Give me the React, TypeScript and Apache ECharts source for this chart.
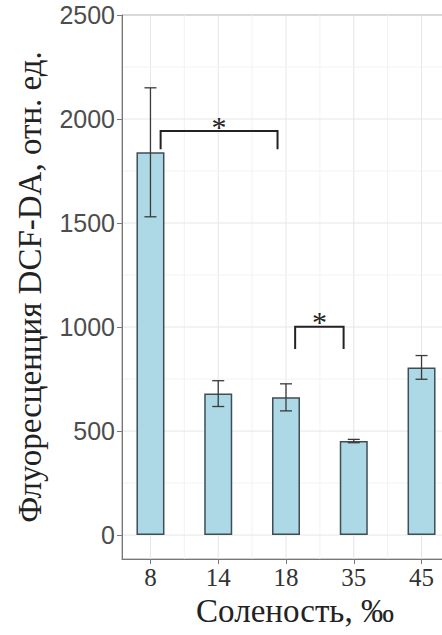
import React, { useEffect, useRef } from "react";
import * as echarts from "echarts";

// Salinity groups and DCF-DA fluorescence (mean ± error)
const salinity = ["8", "14", "18", "35", "45"];
const meanFluor = [1840, 680, 662, 452, 806];
const errFluor = [310, 62, 65, 8, 57];

// Significance brackets: [start x, end x, top y, leg bottom y]
const bracketSpans = [
  [0.15, 1.875, 1942, 1855],
  [2.135, 2.85, 1001, 894],
];
const bracketMarks = ["*", "*"];

// Axis ticks
const yTicks = [0, 500, 1000, 1500, 2000, 2500];
const yMinorGrid = [250, 750, 1250, 1750, 2250];
const xPositions = [0, 1, 2, 3, 4];
const xMinorGrid = [0.5, 1.5, 2.5, 3.5];

const SERIF = "'Liberation Serif', 'DejaVu Serif', serif";
const SANS = "'Liberation Sans', Arial, sans-serif";

const MAJOR_GRID = "#e6e6e6";
const MINOR_GRID = "#f2f2f2";

export default function App() {
  const ref = useRef<HTMLDivElement>(null);

  useEffect(() => {
    if (!ref.current) return;
    const chart = echarts.init(ref.current, undefined, { renderer: "svg" });

    const barData = xPositions.map((x, i) => [x, meanFluor[i]]);
    const errData = xPositions.map((x, i) => [x, meanFluor[i] - errFluor[i], meanFluor[i] + errFluor[i]]);

    // [position, 1 = major / 0 = minor]
    const vGrid = [...xPositions.map((v) => [v, 1]), ...xMinorGrid.map((v) => [v, 0])];
    const hGrid = [...yTicks.map((v) => [0, v, 1]), ...yMinorGrid.map((v) => [0, v, 0])];

    chart.setOption({
      animation: false,
      backgroundColor: "#ffffff",
      grid: {
        left: 122,
        right: 20,
        top: 15,
        bottom: 76,
        outerBoundsMode: "none",
        containLabel: false,
        show: true,
        borderColor: "#999999",
        borderWidth: 1,
        backgroundColor: "transparent",
      },
      xAxis: {
        type: "value",
        min: -0.42,
        max: 4.42,
        name: "Соленость, ‰",
        nameLocation: "middle",
        nameGap: 26,
        nameTextStyle: { fontFamily: SERIF, fontSize: 33, color: "#222222", padding: [0, 0, 0, 18] },
        axisLine: { show: true, onZero: false, lineStyle: { color: "#777777", width: 1 } },
        axisTick: { show: true, length: 5, customValues: xPositions, lineStyle: { color: "#777777" } },
        axisLabel: {
          customValues: xPositions,
          margin: 6,
          fontFamily: SERIF,
          fontSize: 25,
          color: "#333333",
          formatter: (v: number) => (Number.isInteger(v) && salinity[v] !== undefined ? salinity[v] : ""),
        },
        splitLine: { show: false },
      },
      yAxis: {
        type: "value",
        min: -115,
        max: 2500,
        name: "Флуоресценция DCF-DA, отн. ед.",
        nameLocation: "middle",
        nameGap: 76,
        nameTextStyle: { fontFamily: SERIF, fontSize: 33, color: "#222222" },
        axisLine: { show: true, onZero: false, lineStyle: { color: "#777777", width: 1 } },
        axisTick: { show: true, length: 5, customValues: yTicks, lineStyle: { color: "#777777" } },
        axisLabel: {
          customValues: yTicks,
          margin: 7,
          fontFamily: SANS,
          fontSize: 25,
          color: "#4d4d4d",
          formatter: (v: number) => (v % 500 === 0 && v >= 0 ? String(v) : ""),
        },
        splitLine: { show: false },
      },
      series: [
        {
          // vertical grid lines
          type: "custom",
          data: vGrid,
          z: 0,
          silent: true,
          renderItem: (params: any, api: any) => {
            const cs = params.coordSys;
            const px = api.coord([api.value(0), 0])[0];
            return {
              type: "line",
              shape: { x1: px, y1: cs.y, x2: px, y2: cs.y + cs.height },
              style: { stroke: api.value(1) ? MAJOR_GRID : MINOR_GRID, lineWidth: 1 },
            };
          },
        },
        {
          // horizontal grid lines
          type: "custom",
          data: hGrid,
          z: 0,
          silent: true,
          renderItem: (params: any, api: any) => {
            const cs = params.coordSys;
            const py = api.coord([0, api.value(1)])[1];
            return {
              type: "line",
              shape: { x1: cs.x, y1: py, x2: cs.x + cs.width, y2: py },
              style: { stroke: api.value(2) ? MAJOR_GRID : MINOR_GRID, lineWidth: 1 },
            };
          },
        },
        {
          type: "bar",
          data: barData,
          barWidth: 28,
          z: 2,
          itemStyle: { color: "#add8e6", borderColor: "#3e4e56", borderWidth: 1.5 },
        },
        {
          type: "custom",
          data: errData,
          z: 3,
          encode: { x: 0, y: [1, 2] },
          renderItem: (_params: any, api: any) => {
            const x = api.value(0);
            const lo = api.coord([x, api.value(1)]);
            const hi = api.coord([x, api.value(2)]);
            const hw = 6;
            const style = { stroke: "#3a3a3a", lineWidth: 1.3 };
            return {
              type: "group",
              children: [
                { type: "line", shape: { x1: hi[0], y1: hi[1], x2: lo[0], y2: lo[1] }, style },
                { type: "line", shape: { x1: hi[0] - hw, y1: hi[1], x2: hi[0] + hw, y2: hi[1] }, style },
                { type: "line", shape: { x1: lo[0] - hw, y1: lo[1], x2: lo[0] + hw, y2: lo[1] }, style },
              ],
            };
          },
        },
        {
          type: "custom",
          data: bracketSpans,
          z: 4,
          encode: { x: [0, 1], y: [2, 3] },
          renderItem: (params: any, api: any) => {
            const x1 = api.value(0);
            const x2 = api.value(1);
            const top = api.value(2);
            const leg = api.value(3);
            const a = api.coord([x1, leg]);
            const b = api.coord([x1, top]);
            const c = api.coord([x2, top]);
            const d = api.coord([x2, leg]);
            return {
              type: "group",
              children: [
                {
                  type: "polyline",
                  shape: { points: [a, b, c, d] },
                  style: { stroke: "#222222", lineWidth: 2, fill: null },
                },
                {
                  type: "text",
                  x: (b[0] + c[0]) / 2,
                  y: b[1] + 10,
                  style: {
                    text: bracketMarks[params.dataIndex],
                    fontFamily: SERIF,
                    fontSize: 30,
                    fill: "#222222",
                    align: "center",
                    verticalAlign: "bottom",
                  },
                },
              ],
            };
          },
        },
      ],
    });

    return () => chart.dispose();
  }, []);

  return (
    <div
      style={{
        position: "fixed",
        left: 0,
        top: 0,
        width: 442,
        height: 635,
        overflow: "hidden",
        background: "#ffffff",
      }}
    >
      <div ref={ref} style={{ width: 470, height: 635 }} />
    </div>
  );
}
